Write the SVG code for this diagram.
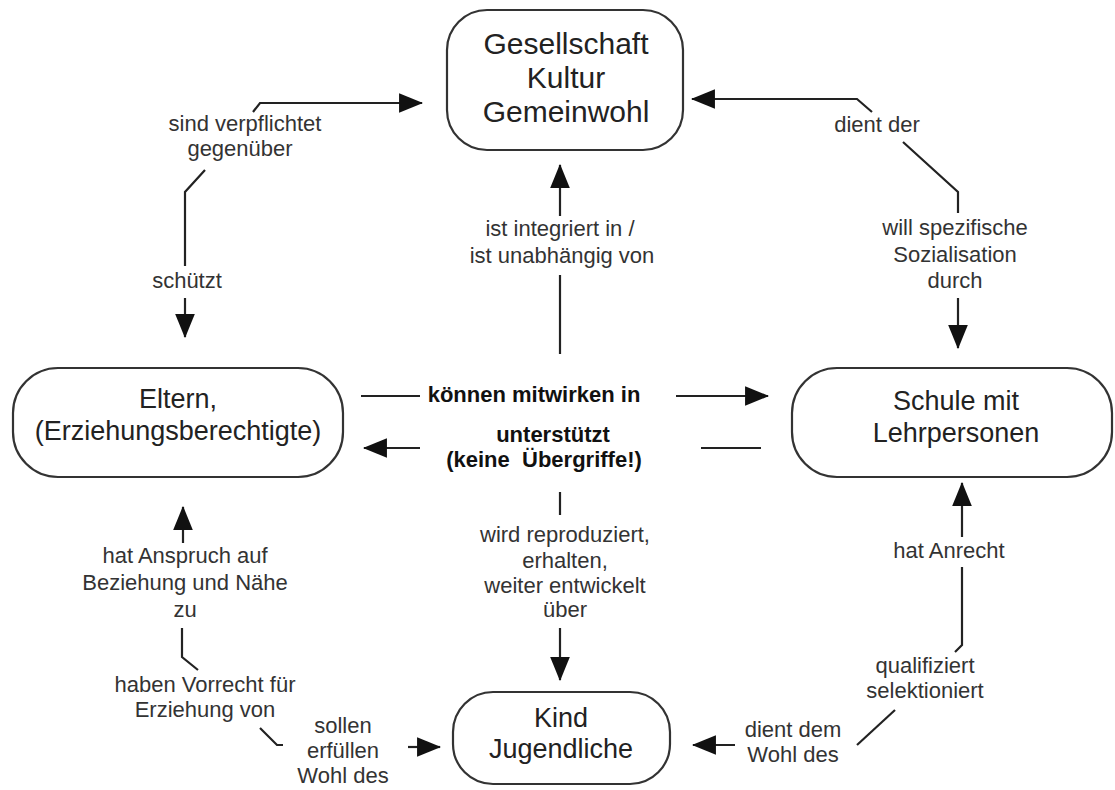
<svg xmlns="http://www.w3.org/2000/svg" width="1115" height="790" viewBox="0 0 1115 790">
<style>
  .node rect { fill: #ffffff; stroke: #333333; stroke-width: 2.2; }
  .nt { font-family: "Liberation Sans", Arial, sans-serif; font-size: 27px; fill: #222222; text-anchor: middle; }
  .nt30 { font-size: 30px; }
  .lbl { font-family: "Liberation Sans", Arial, sans-serif; font-size: 22px; fill: #333333; text-anchor: middle; }
  .bold { font-weight: bold; fill: #111111; }
  .conn path { fill: none; stroke: #222222; stroke-width: 2.2; }
</style>
<defs>
  <marker id="ah" markerUnits="userSpaceOnUse" markerWidth="24" markerHeight="20" viewBox="0 0 22 18" refX="21" refY="9" orient="auto">
    <path d="M0,0 L22,9 L0,18 Z" fill="#111111"/>
  </marker>
</defs>
<rect width="1115" height="790" fill="#ffffff"/>

<g id="connectors" class="conn">
  <!-- Eltern -> Gesellschaft / schützt -->
  <path d="M253,112 L260,103 L422,103" marker-end="url(#ah)"/>
  <path d="M205,170 L185,192 L185,266"/>
  <path d="M185,298 L185,337" marker-end="url(#ah)"/>
  <!-- ist integriert in -->
  <path d="M560,354 L560,275"/>
  <path d="M560,216 L560,165" marker-end="url(#ah)"/>
  <!-- dient der / will spezifische -->
  <path d="M872,112 L857,99 L692,99" marker-end="url(#ah)"/>
  <path d="M903,142 L958,192 L958,213"/>
  <path d="M958,298 L958,348" marker-end="url(#ah)"/>
  <!-- können mitwirken in -->
  <path d="M361,396 L420,396"/>
  <path d="M676,396 L768,396" marker-end="url(#ah)"/>
  <!-- unterstützt -->
  <path d="M761,448 L701,448"/>
  <path d="M420,448 L364,448" marker-end="url(#ah)"/>
  <!-- wird reproduziert -->
  <path d="M560,492 L560,515"/>
  <path d="M560,628 L560,680" marker-end="url(#ah)"/>
  <!-- bottom left -->
  <path d="M183,543 L183,507" marker-end="url(#ah)"/>
  <path d="M182,628 L182,657 L198,670"/>
  <path d="M260,728 L277,745 L283,745"/>
  <path d="M408,747 L440,747" marker-end="url(#ah)"/>
  <!-- bottom right -->
  <path d="M962,537 L962,483" marker-end="url(#ah)"/>
  <path d="M962,567 L962,645 L955,652"/>
  <path d="M895,710 L857,745"/>
  <path d="M735,745 L693,745" marker-end="url(#ah)"/>
</g>

<g id="labels">
  <text class="lbl" x="245" y="131">sind verpflichtet</text>
  <text class="lbl" x="240" y="156">gegenüber</text>
  <text class="lbl" x="187" y="288">schützt</text>
  <text class="lbl" x="560" y="236">ist integriert in /</text>
  <text class="lbl" x="562" y="263">ist unabhängig von</text>
  <text class="lbl" x="877" y="132">dient der</text>
  <text class="lbl" x="955" y="235">will spezifische</text>
  <text class="lbl" x="955" y="262">Sozialisation</text>
  <text class="lbl" x="955" y="288">durch</text>
  <text class="lbl bold" x="534" y="402">können mitwirken in</text>
  <text class="lbl bold" x="553" y="442">unterstützt</text>
  <text class="lbl bold" x="544" y="467" xml:space="preserve">(keine  Übergriffe!)</text>
  <text class="lbl" x="565" y="542">wird reproduziert,</text>
  <text class="lbl" x="565" y="568">erhalten,</text>
  <text class="lbl" x="565" y="593">weiter entwickelt</text>
  <text class="lbl" x="565" y="617">über</text>
  <text class="lbl" x="185" y="563">hat Anspruch auf</text>
  <text class="lbl" x="185" y="590">Beziehung und Nähe</text>
  <text class="lbl" x="185" y="617">zu</text>
  <text class="lbl" x="205" y="692">haben Vorrecht für</text>
  <text class="lbl" x="205" y="717">Erziehung von</text>
  <text class="lbl" x="343" y="733">sollen</text>
  <text class="lbl" x="343" y="758">erfüllen</text>
  <text class="lbl" x="343" y="783">Wohl des</text>
  <text class="lbl" x="949" y="558">hat Anrecht</text>
  <text class="lbl" x="925" y="673">qualifiziert</text>
  <text class="lbl" x="925" y="698">selektioniert</text>
  <text class="lbl" x="793" y="737">dient dem</text>
  <text class="lbl" x="793" y="762">Wohl des</text>
</g>

<g id="node-gesellschaft" class="node">
  <rect x="447" y="10" width="236" height="140" rx="40" ry="40"/>
  <text class="nt nt30" x="566" y="54">Gesellschaft</text>
  <text class="nt nt30" x="566" y="88">Kultur</text>
  <text class="nt nt30" x="566" y="122">Gemeinwohl</text>
</g>

<g id="node-eltern" class="node">
  <rect x="13" y="368" width="330" height="109" rx="45" ry="45"/>
  <text class="nt" x="178" y="408">Eltern,</text>
  <text class="nt" x="178" y="440">(Erziehungsberechtigte)</text>
</g>

<g id="node-schule" class="node">
  <rect x="792" y="368" width="320" height="109" rx="45" ry="45"/>
  <text class="nt" x="956" y="410">Schule mit</text>
  <text class="nt" x="956" y="442">Lehrpersonen</text>
</g>

<g id="node-kind" class="node">
  <rect x="453" y="692" width="217" height="92" rx="40" ry="40"/>
  <text class="nt" x="561" y="727">Kind</text>
  <text class="nt" x="561" y="758">Jugendliche</text>
</g>
</svg>
